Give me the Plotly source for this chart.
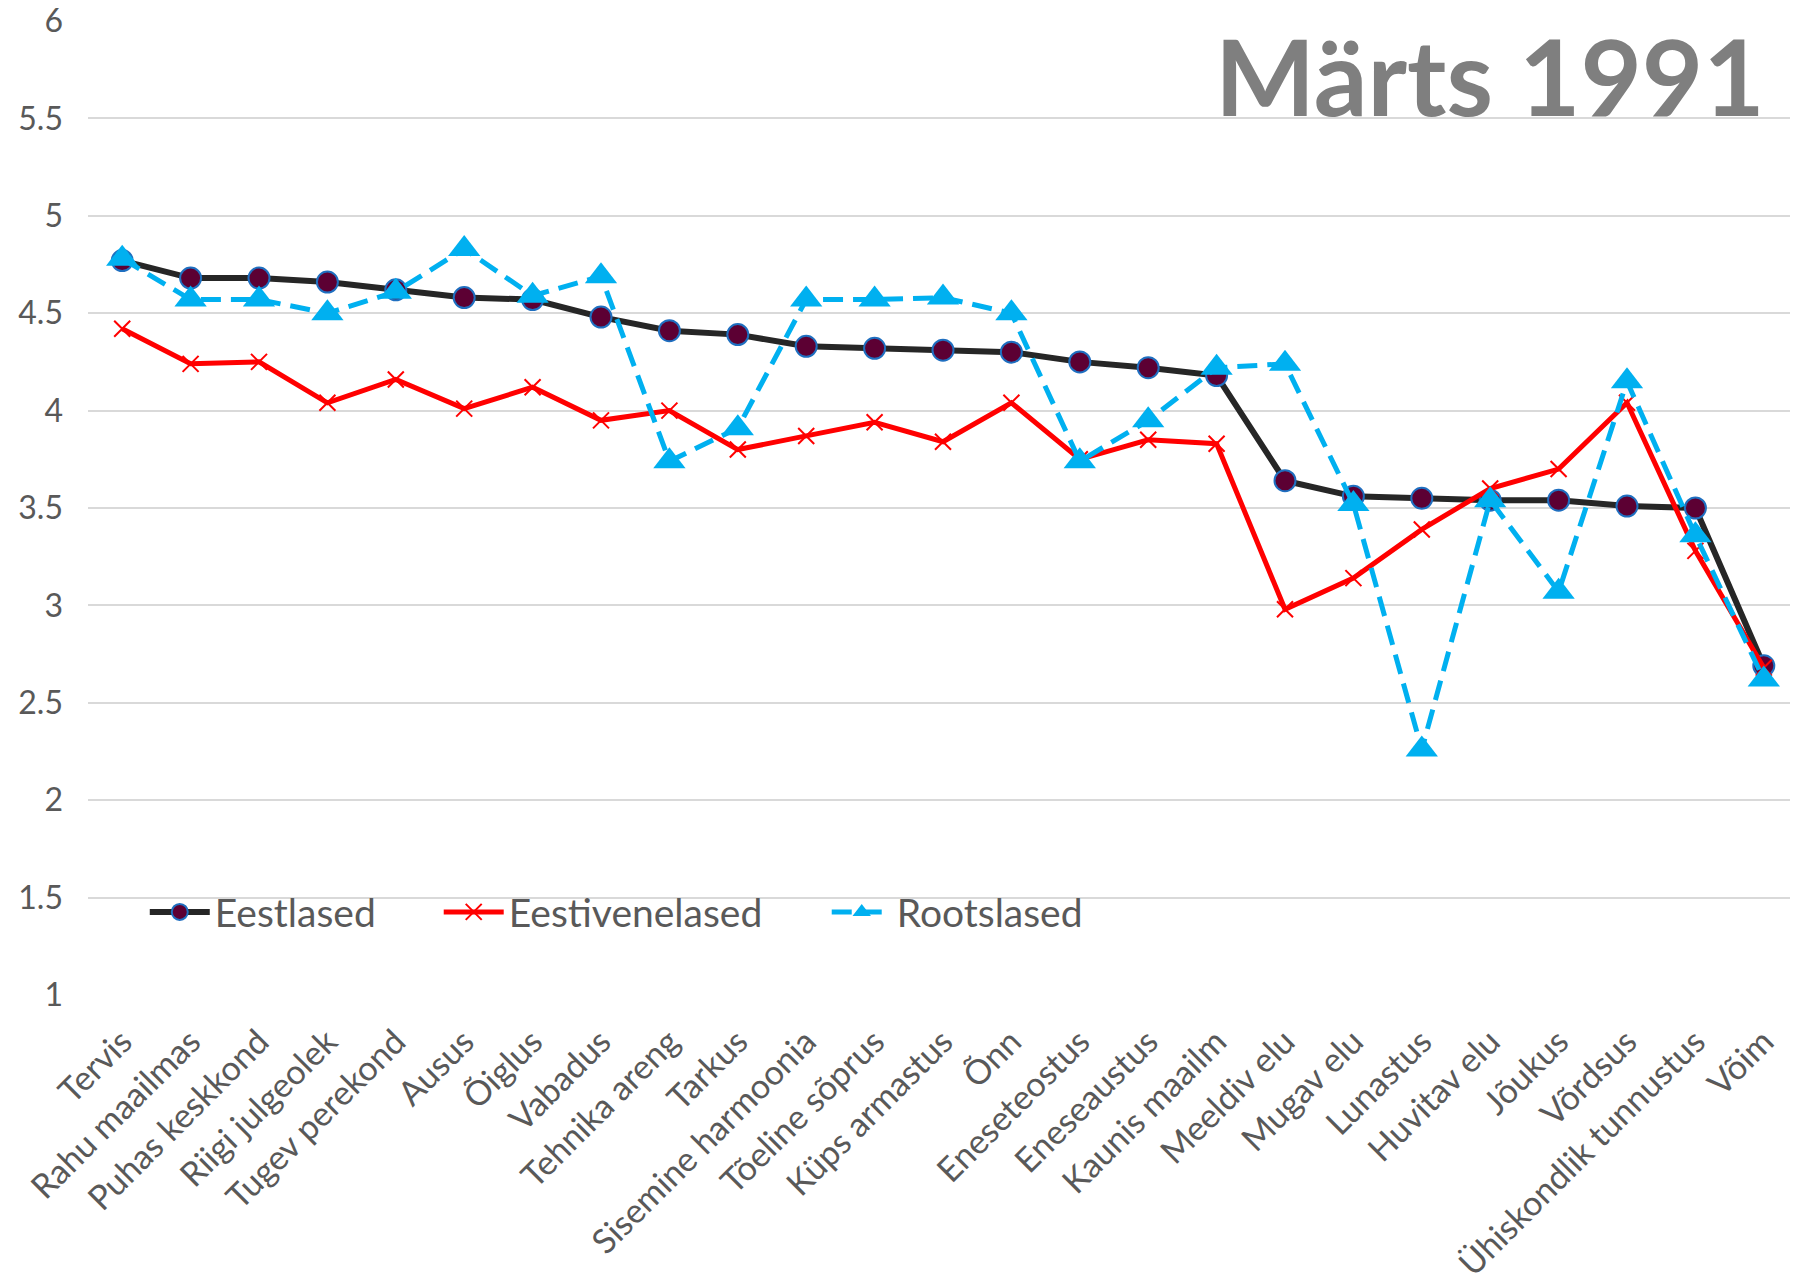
import plotly.graph_objects as go

categories = ["Tervis", "Rahu maailmas", "Puhas keskkond", "Riigi julgeolek", "Tugev perekond",
              "Ausus", "Õiglus", "Vabadus", "Tehnika areng", "Tarkus", "Sisemine harmoonia",
              "Tõeline sõprus", "Küps armastus", "Õnn", "Eneseteostus", "Eneseaustus",
              "Kaunis maailm", "Meeldiv elu", "Mugav elu", "Lunastus", "Huvitav elu",
              "Jõukus", "Võrdsus", "Ühiskondlik tunnustus", "Võim"]

eestlased = [4.77, 4.68, 4.68, 4.66, 4.62, 4.58, 4.57, 4.48, 4.41, 4.39, 4.33, 4.32, 4.31,
             4.30, 4.25, 4.22, 4.18, 3.64, 3.56, 3.55, 3.54, 3.54, 3.51, 3.50, 2.69]
eestivenelased = [4.42, 4.24, 4.25, 4.04, 4.16, 4.01, 4.12, 3.95, 4.00, 3.80, 3.87, 3.94, 3.84,
                  4.04, 3.75, 3.85, 3.83, 2.98, 3.14, 3.39, 3.60, 3.70, 4.04, 3.28, 2.68]
rootslased = [4.78, 4.57, 4.57, 4.50, 4.61, 4.83, 4.59, 4.69, 3.74, 3.91, 4.57, 4.57, 4.58,
              4.50, 3.74, 3.95, 4.22, 4.24, 3.52, 2.26, 3.54, 3.07, 4.15, 3.36, 2.62]

y_ticks = [1, 1.5, 2, 2.5, 3, 3.5, 4, 4.5, 5, 5.5, 6]
y_tick_labels = ["1", "1.5", "2", "2.5", "3", "3.5", "4", "4.5", "5", "5.5", "6"]

FONT = "Lato"
GRAY = "#595959"

fig = go.Figure()
fig.add_trace(go.Scatter(
    x=categories, y=eestlased, name="Eestlased", mode="lines+markers", legend="legend",
    line=dict(color="#262626", width=6),
    marker=dict(symbol="circle", size=21, color="#5C0033",
                line=dict(color="#1F6FC0", width=2))))
fig.add_trace(go.Scatter(
    x=categories, y=eestivenelased, name="Eestivenelased", mode="lines+markers", legend="legend2",
    line=dict(color="#FF0000", width=5),
    marker=dict(symbol="x-thin", size=16, color="#FF0000",
                line=dict(color="#FF0000", width=2))))
fig.add_trace(go.Scatter(
    x=categories, y=rootslased, name="Rootslased", mode="lines+markers", legend="legend3",
    line=dict(color="#00B0F0", width=5, dash="20px,10px"),
    marker=dict(symbol="triangle-up", size=28, color="#00B0F0")))

fig.add_annotation(
    text="<b>Märts 1991</b>", xref="paper", yref="paper", x=0.9817, y=0.944,
    xanchor="right", yanchor="middle", showarrow=False,
    font=dict(family=FONT, size=106, color="#7F7F7F"))

leg_common = dict(orientation="h", y=0.086, xanchor="left", yanchor="middle",
                  font=dict(family=FONT, size=39, color=GRAY),
                  bgcolor="rgba(0,0,0,0)", itemwidth=60)

fig.update_layout(
    width=1790, height=1274,
    margin=dict(l=80, r=0, t=12, b=286),
    paper_bgcolor="white", plot_bgcolor="white",
    font=dict(family=FONT, color=GRAY),
    showlegend=True,
    legend=dict(x=0.0332, **leg_common),
    legend2=dict(x=0.2051, **leg_common),
    legend3=dict(x=0.4320, **leg_common),
    xaxis=dict(type="category", tickangle=-45, showgrid=False, showline=False,
               tickfont=dict(family=FONT, size=34, color=GRAY), automargin=False,
               ticklabelstandoff=18, range=[-0.5, 24.5]),
    yaxis=dict(range=[0.995, 6.005], tickvals=y_ticks, ticktext=y_tick_labels, automargin=False,
               showgrid=True, gridcolor="#D9D9D9", gridwidth=2, zeroline=False,
               showline=False, tickfont=dict(family=FONT, size=32, color=GRAY),
               ticklabelstandoff=24, ticklabeloverflow="allow"),
)

fig.write_html("out.html")
